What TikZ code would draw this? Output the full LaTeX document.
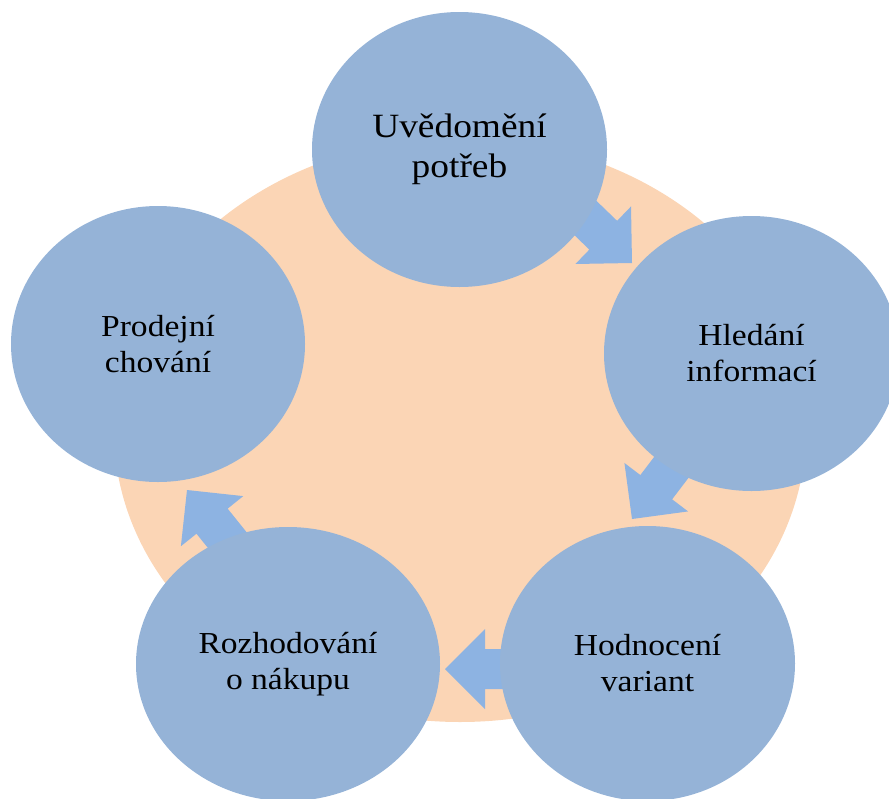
\documentclass[tikz,border=0pt]{standalone}
\usepackage{fontspec}
\setmainfont{Liberation Serif}[FakeStretch=1.1]
\usetikzlibrary{shapes.geometric}
\definecolor{peach}{HTML}{FBD5B5}
\definecolor{stepblue}{HTML}{95B3D7}
\definecolor{arrowblue}{HTML}{8DB3E2}
\begin{document}
\begin{tikzpicture}[x=1pt,y=-1pt,
  stepnode/.style={ellipse, fill=stepblue, inner sep=0pt, minimum width=295pt,
    minimum height=275pt, align=center, text=black,
    font=\fontsize{30.5}{36}\selectfont},
  bignode/.style={font=\fontsize{34}{40}\selectfont},
  backdisc/.style={ellipse, fill=peach, inner sep=0pt, minimum width=692pt, minimum height=584pt},
  barrow/.pic={\fill[arrowblue] (0,0) -- (-40,40) -- (-40,20) -- (-110,20) -- (-110,-20) -- (-40,-20) -- (-40,-40) -- cycle;}
]
\useasboundingbox (0,0) rectangle (889,798);
\clip (0,0) rectangle (889,798);
\node[backdisc] (bg) at (460,430) {};
% arrow tips
\coordinate (t1) at (632,263);
\coordinate (t2) at (632,519);
\coordinate (t3) at (445,669);
\coordinate (t4) at (187,490);
\path (t1) pic[rotate=-44] {barrow};
\path (t2) pic[rotate=-127.3] {barrow};
\path (t3) pic[rotate=180] {barrow};
\path (t4) pic[rotate=128.8] {barrow};
% steps
\node[stepnode, bignode] (s1) at (459.5,149.5) {Uvědomění\\potřeb};
\node[stepnode] (s2) at (751.5,353.5) {Hledání\\informací};
\node[stepnode] (s3) at (647.5,663.5) {Hodnocení\\variant};
\node[stepnode, minimum width=304pt, minimum height=274pt] (s4) at (288,664) {Rozhodování\\o nákupu};
\node[stepnode, minimum width=294pt, minimum height=276pt] (s5) at (158,344) {Prodejní\\chování};
\end{tikzpicture}
\end{document}
